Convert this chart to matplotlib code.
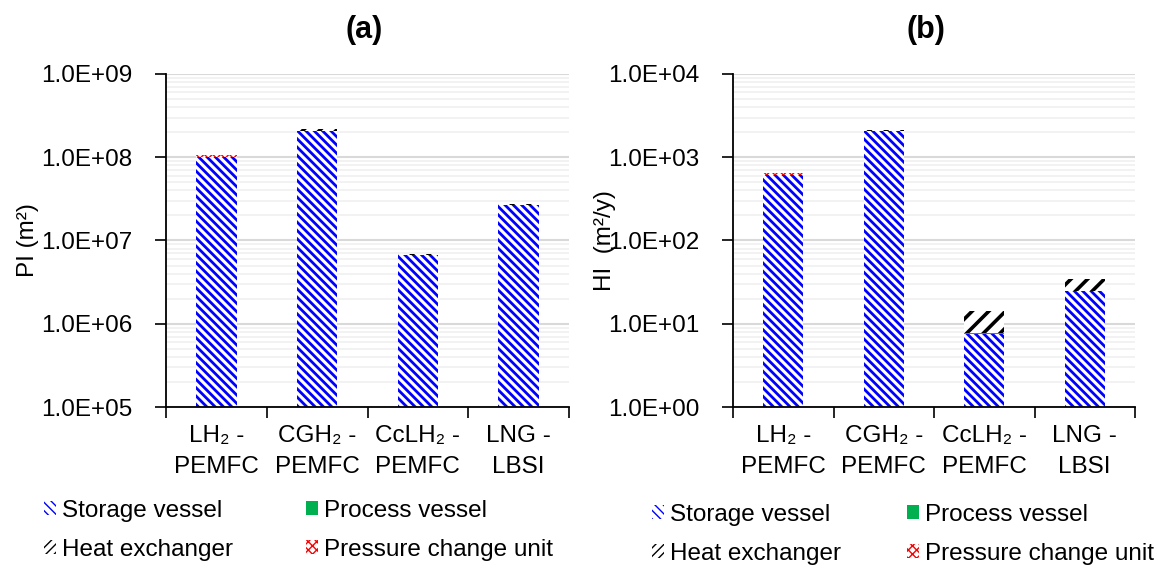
import numpy as np
import matplotlib
matplotlib.use("Agg")
import matplotlib.pyplot as plt
from matplotlib.patches import Patch
from matplotlib.ticker import FuncFormatter, LogLocator, NullFormatter, FixedLocator

plt.rcParams["font.family"] = ["Liberation Sans", "DejaVu Sans"]

W, H = 1158, 568
FS = 17.5

categories = ["LH₂ -\nPEMFC", "CGH₂ -\nPEMFC", "CcLH₂ -\nPEMFC", "LNG -\nLBSI"]
components = ["Storage vessel", "Process vessel", "Heat exchanger", "Pressure change unit"]

# (a) PI, m2
pi_storage = [1.02e8, 2.08e8, 6.7e6, 2.7e7]
pi_process = [1.0e4, 1.0e4, 6.0e4, 1.0e4]
pi_heatex = [0.0, 8.0e6, 1.0e5, 8.0e5]
pi_pressure = [4.5e6, 0.0, 0.0, 0.0]

# (b) HI, m2/y
hi_storage = [620.0, 2080.0, 7.6, 24.5]
hi_process = [0.1, 0.5, 0.15, 0.1]
hi_heatex = [0.0, 40.0, 6.6, 10.0]
hi_pressure = [30.0, 0.0, 0.0, 0.0]

STYLE = {
    "Storage vessel": dict(facecolor="white", edgecolor="#0000ff", hatch="\\\\\\\\",
                           leg_hatch="\\\\\\\\", hlw=2.0),
    "Process vessel": dict(facecolor="#00b050", edgecolor="#00b050", hatch=None,
                           leg_hatch=None, hlw=1.0),
    "Heat exchanger": dict(facecolor="white", edgecolor="black", hatch="//",
                           leg_hatch="////", hlw=2.6),
    "Pressure change unit": dict(facecolor="white", edgecolor="#ff0000", hatch="xxxx",
                                 leg_hatch="xxxx", hlw=1.0),
}


def styled(patches, name):
    st = STYLE[name]
    for p in patches:
        p.set_facecolor(st["facecolor"])
        p.set_edgecolor(st["edgecolor"])
        p.set_linewidth(0)
        if st["hatch"]:
            p.set_hatch(st["hatch"])
            if hasattr(p, "set_hatch_linewidth"):
                p.set_hatch_linewidth(st["hlw"])


def sci(v, pos):
    return f"{v:.1E}"


def panel(ax, series, ylim, ylabel, label_x):
    x = np.arange(len(categories))
    bottom = np.zeros(len(categories))
    for name, vals in zip(components, series):
        vals = np.asarray(vals, float)
        with plt.rc_context({"hatch.linewidth": STYLE[name]["hlw"]}):
            bars = ax.bar(x, np.where(vals > 0, vals, np.nan), 0.4, bottom=bottom,
                          zorder=2)
        styled(bars.patches, name)
        bottom = bottom + vals

    ax.set_yscale("log")
    ax.set_ylim(*ylim)
    ax.set_xlim(-0.5, len(categories) - 0.5)
    ax.yaxis.set_major_locator(LogLocator(base=10, numticks=10))
    ax.yaxis.set_minor_locator(LogLocator(base=10, subs=np.arange(2, 10), numticks=20))
    ax.yaxis.set_major_formatter(FuncFormatter(sci))
    ax.yaxis.set_minor_formatter(NullFormatter())
    ax.tick_params(axis="y", which="major", direction="out", length=8, width=1.2,
                   labelsize=FS, pad=16)
    ax.tick_params(axis="y", which="minor", length=0)
    ax.grid(axis="y", which="major", color="#d9d9d9", lw=1.5, zorder=0)
    ax.grid(axis="y", which="minor", color="#f0f0f0", lw=1.2, zorder=0)
    ax.set_axisbelow(True)

    ax.xaxis.set_major_locator(FixedLocator(np.arange(len(categories) + 1) - 0.5))
    ax.xaxis.set_major_formatter(NullFormatter())
    ax.xaxis.set_minor_locator(FixedLocator(x))
    ax.set_xticklabels(categories, minor=True, fontsize=FS, linespacing=1.55)
    ax.tick_params(axis="x", which="major", direction="out", length=8, width=1.2)
    ax.tick_params(axis="x", which="minor", length=0, pad=13)

    for s in ("top", "right"):
        ax.spines[s].set_visible(False)
    for s in ("left", "bottom"):
        ax.spines[s].set_linewidth(1.3)
    ax.set_ylabel(ylabel, fontsize=FS)
    ax.yaxis.set_label_coords(label_x, 0.5)


fig = plt.figure(figsize=(W / 100, H / 100), dpi=100)
ax_a = fig.add_axes([166 / W, 1 - 407 / H, 403 / W, 333 / H])
ax_b = fig.add_axes([733 / W, 1 - 407 / H, 402 / W, 333 / H])

panel(ax_a, [pi_storage, pi_process, pi_heatex, pi_pressure], (1e5, 1e9),
      "PI (m²)", -0.315)
panel(ax_b, [hi_storage, hi_process, hi_heatex, hi_pressure], (1e0, 1e4),
      "HI  (m²/y)", -0.29)

fig.text(364 / W, 1 - 30 / H, "(a)", fontsize=22, fontweight="bold", ha="center", va="center")
fig.text(926 / W, 1 - 30 / H, "(b)", fontsize=22, fontweight="bold", ha="center", va="center")


def legend_handles():
    hs = []
    for name in components:
        st = STYLE[name]
        with plt.rc_context({"hatch.linewidth": min(st["hlw"], 1.6)}):
            p = Patch(facecolor=st["facecolor"], edgecolor=st["edgecolor"], lw=0,
                      hatch=st["leg_hatch"], label=name)
        hs.append(p)
    # column-major fill -> rows: storage/process, heat exchanger/pressure
    return [hs[0], hs[2], hs[1], hs[3]]


for ax, (lx, ly), cs in ((ax_a, (44, 500), 3.0), (ax_b, (652, 504), 2.7)):
    hs = legend_handles()
    ax.legend(handles=hs, labels=[h.get_label() for h in hs], ncol=2, loc="upper left",
              bbox_to_anchor=(lx / W, 1 - ly / H), bbox_transform=fig.transFigure,
              frameon=False, fontsize=FS, handlelength=0.5, handleheight=0.5,
              handletextpad=0.25, columnspacing=cs, labelspacing=0.68,
              borderpad=0, borderaxespad=0)

fig.savefig("out.png", dpi=100)
